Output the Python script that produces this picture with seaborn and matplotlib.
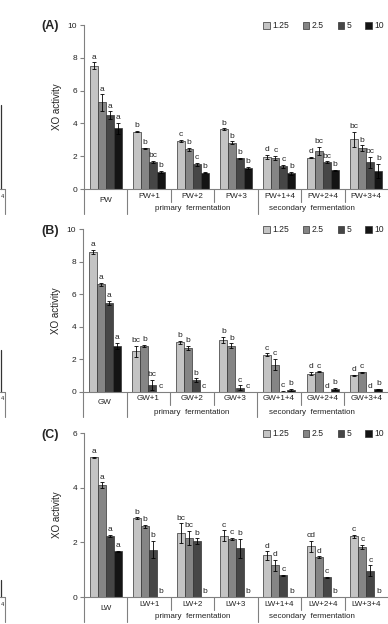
import matplotlib.pyplot as plt
from matplotlib.lines import Line2D
import numpy as np
import pandas as pd
import seaborn as sns

concs = ["1.25", "2.5", "5", "10"]
colors = ["#c4c4c4", "#858585", "#464646", "#141414"]

cats_A = ["PW", "PW+1", "PW+2", "PW+3", "PW+1+4", "PW+2+4", "PW+3+4"]
mean_A = [[7.52, 3.50, 2.93, 3.66, 1.95, 1.91, 3.03],
          [5.28, 2.48, 2.42, 2.83, 1.89, 2.34, 2.48],
          [4.49, 1.63, 1.50, 1.87, 1.38, 1.65, 1.63],
          [3.70, 1.04, 1.00, 1.30, 0.96, 1.14, 1.10]]
err_A = [[0.20, 0.03, 0.08, 0.04, 0.12, 0.05, 0.45],
         [0.50, 0.05, 0.08, 0.08, 0.12, 0.25, 0.18],
         [0.25, 0.07, 0.08, 0.04, 0.10, 0.04, 0.35],
         [0.35, 0.05, 0.04, 0.05, 0.10, 0.04, 0.45]]
let_A = [["a", "b", "c", "b", "d", "d", "bc"],
         ["a", "b", "b", "b", "c", "bc", "b"],
         ["a", "bc", "c", "b", "c", "bc", "bc"],
         ["a", "b", "b", "b", "b", "b", "b"]]

cats_B = ["GW", "GW+1", "GW+2", "GW+3", "GW+1+4", "GW+2+4", "GW+3+4"]
mean_B = [[8.59, 2.49, 3.05, 3.19, 2.29, 1.12, 1.02],
          [6.61, 2.84, 2.70, 2.84, 1.68, 1.23, 1.21],
          [5.46, 0.43, 0.74, 0.25, 0.02, 0.00, 0.00],
          [2.82, 0.02, 0.02, 0.02, 0.14, 0.18, 0.16]]
err_B = [[0.12, 0.35, 0.08, 0.20, 0.08, 0.10, 0.05],
         [0.10, 0.07, 0.15, 0.15, 0.35, 0.03, 0.03],
         [0.15, 0.30, 0.10, 0.15, 0.07, 0.00, 0.00],
         [0.18, 0.00, 0.00, 0.00, 0.06, 0.08, 0.04]]
let_B = [["a", "bc", "b", "b", "c", "d", "d"],
         ["a", "b", "b", "b", "c", "c", "c"],
         ["a", "bc", "b", "c", "c", "d", "d"],
         ["a", "c", "c", "c", "b", "b", "b"]]

cats_C = ["LW", "LW+1", "LW+2", "LW+3", "LW+1+4", "LW+2+4", "LW+3+4"]
mean_C = [[5.11, 2.89, 2.34, 2.24, 1.52, 1.85, 2.22],
          [4.10, 2.59, 2.17, 2.13, 1.16, 1.46, 1.84],
          [2.23, 1.73, 2.05, 1.79, 0.79, 0.72, 0.96],
          [1.67, 0.00, 0.00, 0.00, 0.00, 0.00, 0.00]]
err_C = [[0.03, 0.03, 0.35, 0.20, 0.15, 0.20, 0.05],
         [0.10, 0.05, 0.25, 0.03, 0.20, 0.03, 0.07],
         [0.05, 0.32, 0.10, 0.35, 0.03, 0.03, 0.20],
         [0.03, 0.00, 0.00, 0.00, 0.00, 0.00, 0.00]]
let_C = [["a", "b", "bc", "c", "d", "cd", "c"],
         ["a", "b", "bc", "c", "d", "d", "c"],
         ["a", "b", "b", "b", "c", "c", "c"],
         ["a", "b", "b", "b", "b", "b", "b"]]

W, H = 388, 624
LINE = "#808080"

sns.set_style("white")
plt.rcParams["font.family"] = ["Liberation Sans", "DejaVu Sans"]
fig = plt.figure(figsize=(W / 100, H / 100), dpi=100)


def px_rect(l, t, r, b):
    return [l / W, 1 - b / H, (r - l) / W, (b - t) / H]


def draw_panel(rect, tag, tag_y, cats, means, errs, letters, ymax, yticks):
    ax = fig.add_axes(px_rect(*rect))
    h_px = rect[3] - rect[1]
    rows = []
    for ci, c in enumerate(concs):
        for k, cat in enumerate(cats):
            rows.append({"cat": cat, "conc": c, "val": means[ci][k]})
    df = pd.DataFrame(rows)
    sns.barplot(data=df, x="cat", y="val", hue="conc", order=cats,
                hue_order=concs, palette=colors, width=0.74, errorbar=None,
                edgecolor="#333333", linewidth=0.5, ax=ax, legend=False)
    bar_conts = list(ax.containers)

    for ci, cont in enumerate(bar_conts):
        xs = np.array([b.get_x() + b.get_width() / 2 for b in cont])
        m = np.array(means[ci])
        e = np.array(errs[ci])
        keep = e > 0
        ax.errorbar(xs[keep], m[keep], yerr=e[keep], fmt="none",
                    ecolor="black", elinewidth=0.6, capsize=1.3,
                    capthick=0.6, zorder=3)
        for x, v, er, lab in zip(xs, m, e, letters[ci]):
            ax.annotate(lab, (x, v + er), xytext=(0, 1.2),
                        textcoords="offset points", ha="center",
                        va="bottom", fontsize=6, color="#222222")

    ax.set_xlim(-0.5, len(cats) - 0.5)
    ax.set_ylim(0, ymax)
    ax.set_yticks(yticks)
    ax.set_xticks([])
    ax.set_xlabel("")
    ax.set_ylabel("XO activity", fontsize=7, color="#222222")
    ax.yaxis.set_label_coords(-22 / (rect[2] - rect[0]), 0.5)
    ax.tick_params(axis="y", direction="out", length=3, width=0.8,
                   colors=LINE, labelcolor="#222222", labelsize=6, pad=2,
                   left=True)
    for s in ["top", "right"]:
        ax.spines[s].set_visible(False)
    for s in ["left", "bottom"]:
        ax.spines[s].set_color(LINE)
        ax.spines[s].set_linewidth(0.8)

    # category table below the axis
    tr = ax.get_xaxis_transform()
    def dy(px):
        return -px / h_px
    for x in [-0.5, 0.5, 3.5]:
        ax.plot([x, x], [0, dy(25)], transform=tr, color=LINE, lw=0.8,
                clip_on=False)
    for x in [1.5, 2.5, 4.5, 5.5]:
        ax.plot([x, x], [0, dy(13)], transform=tr, color=LINE, lw=0.8,
                clip_on=False)
    for k, cat in enumerate(cats):
        ax.text(k, dy(11 if k == 0 else 7), cat, transform=tr, ha="center",
                va="center", fontsize=5.8, color="#222222")
    ax.text(2, dy(20), "primary  fermentation", transform=tr, ha="center",
            va="center", fontsize=5.8, color="#222222")
    ax.text(4.75, dy(20), "secondary  fermentation", transform=tr,
            ha="center", va="center", fontsize=5.8, color="#222222")

    leg = ax.legend(bar_conts, concs, loc="center right",
                    bbox_to_anchor=(1 - 4 / (rect[2] - rect[0]),
                                    1 - 1 / h_px),
                    ncol=4, frameon=False, fontsize=6.2, handlelength=0.75,
                    handleheight=0.75, handletextpad=0.3, columnspacing=1.6,
                    borderpad=0, borderaxespad=0)
    for t in leg.get_texts():
        t.set_color("#222222")

    fig.text(50 / W, 1 - tag_y / H, tag, ha="center", va="center",
             fontsize=9, fontweight="bold")
    return ax


draw_panel((84, 25, 388, 189), "(A)", 26, cats_A, mean_A, err_A, let_A,
           10, [0, 2, 4, 6, 8, 10])
draw_panel((83, 229, 388, 392), "(B)", 231, cats_B, mean_B, err_B, let_B,
           10, [0, 2, 4, 6, 8, 10])
draw_panel((84, 433, 388, 597), "(C)", 435, cats_C, mean_C, err_C, let_C,
           6, [0, 2, 4, 6])

# fragments of the neighbouring figure cut off at the left edge
for top, base in [(105, 189), (350, 392), (580, 597)]:
    fig.add_artist(Line2D([1 / W, 1 / W], [1 - top / H, 1 - base / H],
                          color="#333333", lw=0.9))
    fig.add_artist(Line2D([0, 5 / W], [1 - base / H, 1 - base / H],
                          color=LINE, lw=0.8))
    fig.add_artist(Line2D([5 / W, 5 / W],
                          [1 - base / H, 1 - min(base + 25, H) / H],
                          color=LINE, lw=0.8))
    fig.text(0.5 / W, 1 - (base + 7) / H, "4", ha="left", va="center",
             fontsize=4, color="#222222")

fig.savefig("out.png", dpi=100)
